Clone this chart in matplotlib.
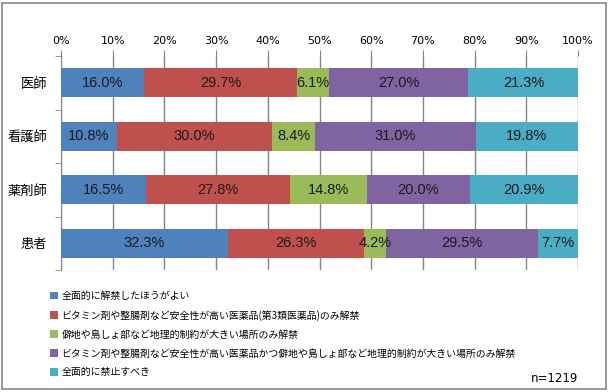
import numpy as np
import matplotlib
matplotlib.use("Agg")
import matplotlib.pyplot as plt
from matplotlib.patches import Patch, Rectangle

plt.rcParams['font.family'] = ['Noto Sans CJK JP', 'DejaVu Sans']

# data
groups = ["医師", "看護師", "薬剤師", "患者"]
answers = [
    "全面的に解禁したほうがよい",
    "ビタミン剤や整腸剤など安全性が高い医薬品(第3類医薬品)のみ解禁",
    "僻地や島しょ部など地理的制約が大きい場所のみ解禁",
    "ビタミン剤や整腸剤など安全性が高い医薬品かつ僻地や島しょ部など地理的制約が大きい場所のみ解禁",
    "全面的に禁止すべき",
]
shares = np.array([
    [16.0, 29.7, 6.1, 27.0, 21.3],
    [10.8, 30.0, 8.4, 31.0, 19.8],
    [16.5, 27.8, 14.8, 20.0, 20.9],
    [32.3, 26.3, 4.2, 29.5, 7.7],
])
colors = ["#4F81BD", "#C0504D", "#9BBB59", "#8064A2", "#4BACC6"]
xticks = np.arange(0, 101, 10)
note = "n=1219"

fig = plt.figure(figsize=(6.10, 3.92), dpi=100)
ax = fig.add_axes([61 / 610, 1 - 270 / 392, 517 / 610, 214 / 392])

y = np.arange(len(groups))
left = np.zeros(len(groups))
for j in range(len(answers)):
    bars = ax.barh(y, shares[:, j], left=left, height=0.54, color=colors[j],
                   zorder=3, label=answers[j])
    for k, b in enumerate(bars):
        ax.text(left[k] + shares[k, j] / 2, y[k], "%.1f%%" % shares[k, j],
                ha="center", va="center", fontsize=10.5,
                family=["Liberation Sans"], color="#1a1a1a", zorder=4)
    left += shares[:, j]

ax.set_xlim(0, 100)
ax.set_ylim(len(groups) - 0.5, -0.5)
ax.xaxis.tick_top()
ax.set_xticks(xticks)
ax.set_xticklabels(["%d%%" % v for v in xticks], fontsize=8,
                   family=["DejaVu Sans"])
ax.tick_params(axis="x", length=4, color="#868686", pad=3)
ax.grid(axis="x", color="#868686", linewidth=1, zorder=0)

ax.set_yticks(y)
ax.set_yticklabels(groups, fontsize=9.5)
ax.set_yticks(np.arange(len(groups) + 1) - 0.5, minor=True)
ax.tick_params(axis="y", which="major", length=0, pad=10)
ax.tick_params(axis="y", which="minor", length=4, color="#868686")

for s in ["top", "right", "bottom"]:
    ax.spines[s].set_visible(False)
ax.spines["left"].set_color("#868686")

handles = [Patch(facecolor=c) for c in colors]
fig.legend(handles, answers, loc="upper left",
           bbox_to_anchor=(46 / 610, 1 - 287 / 392), frameon=False,
           fontsize=7.1, handlelength=0.8, handleheight=0.8,
           handletextpad=0.35, labelspacing=0.9, borderaxespad=0)

fig.text(578 / 610, 1 - 378 / 392, note, ha="right", va="center",
         fontsize=8.5, family=["DejaVu Sans"])

fig.patches.append(Rectangle((2 / 610, 3 / 392), 604 / 610, 386 / 392,
                             transform=fig.transFigure, fill=False,
                             edgecolor="#868686", linewidth=1.2))

fig.savefig("out.png", dpi=100)
